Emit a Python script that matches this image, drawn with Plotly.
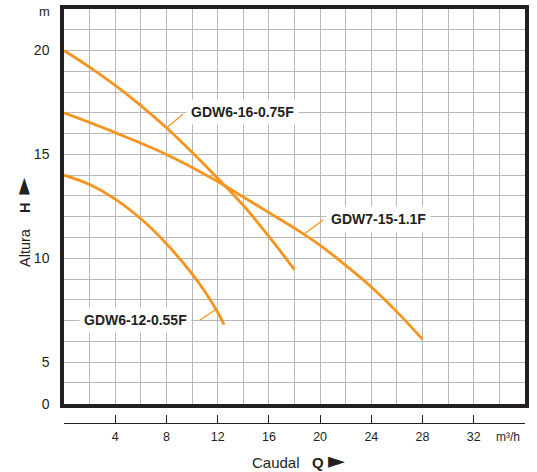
import plotly.graph_objects as go

# ---- data ----
q_gdw6_16 = [0, 2, 4, 6, 8, 10, 12, 14, 16, 18]
h_gdw6_16 = [20, 19.2, 18.32, 17.35, 16.28, 15.1, 13.85, 12.55, 11.05, 9.45]

q_gdw7_15 = [0, 4, 8, 12, 14, 16, 18, 20, 22, 24, 26, 28]
h_gdw7_15 = [17, 16.05, 15.0, 13.7, 12.95, 12.2, 11.45, 10.62, 9.66, 8.62, 7.42, 6.1]

q_gdw6_12 = [0, 2, 4, 6, 8, 10, 11, 12, 12.5]
h_gdw6_12 = [14, 13.55, 12.85, 11.9, 10.7, 9.25, 8.4, 7.4, 6.8]

series_names = ["GDW6-16-0.75F", "GDW7-15-1.1F", "GDW6-12-0.55F"]

x_tickvals = [4, 8, 12, 16, 20, 24, 28, 32, 36]
x_ticktext = ["4", "8", "12", "16", "20", "24", "28", "32", ""]
y_tickvals = [3, 5, 10, 15, 20]
y_ticktext = ["0", "5", "10", "15", "20"]

# label positions (data coords) and leader lines
label_pos = [(13.95, 17.04), (24.57, 11.89), (5.55, 7.03)]
leaders = [((8.05, 16.3), (9.30, 16.95)),
           ((18.83, 11.2), (20.23, 11.84)),
           ((10.63, 7.03), (11.875, 7.55))]

ORANGE = "#F7941D"
GRID = "#b8b8b8"
DARK = "#231f20"
FONT = "Liberation Sans, Arial, sans-serif"

W, H = 537, 472
L, R, T, B = 64, 12, 5, 49
pw, ph = W - L - R, H - T - B
ybot_px = 403.5


def px2paper(px, py):
    return (px - L) / pw, (H - B - py) / ph


fig = go.Figure()
for qs, hs in [(q_gdw6_16, h_gdw6_16), (q_gdw7_15, h_gdw7_15), (q_gdw6_12, h_gdw6_12)]:
    fig.add_trace(go.Scatter(x=qs, y=hs, mode="lines",
                             line=dict(color=ORANGE, width=2.8, shape="spline", smoothing=1.0),
                             hoverinfo="skip", showlegend=False))

# empty trace to activate second x-axis
fig.add_trace(go.Scatter(x=[], y=[], xaxis="x2", yaxis="y", showlegend=False))

ydom0 = (H - B - ybot_px) / ph

fig.update_layout(
    width=W, height=H,
    margin=dict(l=L, r=R, t=T, b=B),
    paper_bgcolor="white", plot_bgcolor="white",
    font=dict(family=FONT, color=DARK),
    showlegend=False,
    xaxis=dict(range=[0, 36], domain=[0, 1], showgrid=True, dtick=2, tick0=0,
               gridcolor=GRID, gridwidth=1.2, showticklabels=False, ticks="",
               showline=True, mirror=True, linewidth=3.5, linecolor=DARK,
               zeroline=False, fixedrange=True),
    yaxis=dict(range=[3, 22], domain=[ydom0, 1], tickmode="array",
               tickvals=y_tickvals, ticktext=y_ticktext,
               showgrid=True, gridcolor=GRID, gridwidth=1.2,
               minor=dict(dtick=1, tick0=0, showgrid=True, gridcolor=GRID, gridwidth=1.2),
               ticks="", tickfont=dict(size=14, color=DARK), ticklabelstandoff=8,
               showline=True, mirror=True, linewidth=3.5, linecolor=DARK,
               zeroline=False, fixedrange=True),
    xaxis2=dict(range=[0, 36], overlaying="x", anchor="free", position=0,
                tickmode="array", tickvals=x_tickvals, ticktext=x_ticktext,
                ticks="inside", ticklen=8, tickwidth=1.2, tickcolor=DARK,
                showline=True, linewidth=1.2, linecolor=DARK,
                showgrid=False, zeroline=False, ticklabelstandoff=2,
                tickfont=dict(size=12.5, color=DARK), fixedrange=True),
)

# curve labels
for name, (lx, ly) in zip(series_names, label_pos):
    fig.add_annotation(x=lx, y=ly, xref="x", yref="y", text=f"<b>{name}</b>",
                       xanchor="center", yanchor="middle",
                       showarrow=False, font=dict(size=14, color=DARK, family=FONT),
                       bgcolor="white", borderpad=4)

for (x0, y0), (x1, y1) in leaders:
    fig.add_shape(type="line", x0=x0, y0=y0, x1=x1, y1=y1, xref="x", yref="y",
                  line=dict(color=ORANGE, width=1.3))


# unit labels and titles
def paper_text(px, py, text, size, angle=0):
    ax, ay = px2paper(px, py)
    fig.add_annotation(x=ax, y=ay, xref="paper", yref="paper", text=text,
                       xanchor="center", yanchor="middle", textangle=angle,
                       showarrow=False, font=dict(size=size, color=DARK))


TRI = "<span style='font-family:DejaVu Sans;font-size:22px'>►</span>"
paper_text(44, 8, "m", 13)
paper_text(508, 437, "m³/h", 12)
paper_text(298, 461, "Caudal&nbsp;&nbsp;&nbsp;<b>Q</b>&nbsp;" + TRI, 15)
paper_text(23, 220, "Altura&nbsp;&nbsp;&nbsp;&nbsp;<b>H</b>&nbsp;&nbsp;" + TRI, 14.5, -90)

fig.write_html("out.html", config={"displayModeBar": False},
               post_script="document.body.style.margin='0';document.body.style.overflow='hidden';")
